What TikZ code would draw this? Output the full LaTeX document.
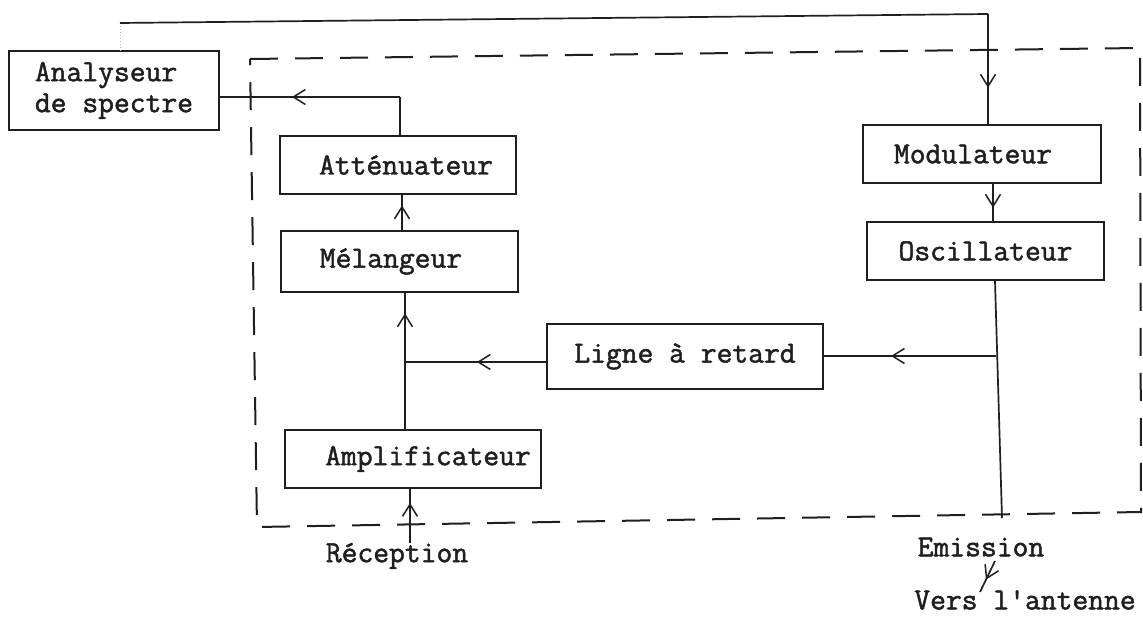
\documentclass[tikz,border=0pt]{standalone}
\usepackage{fontspec}
\newfontfamily\tw{Latin Modern Mono}[BoldFont={Latin Modern Mono}, BoldFeatures={FakeBold=1.6}]
\usetikzlibrary{arrows.meta,decorations.markings}
\definecolor{ink}{gray}{0.12}
\tikzset{
  box/.style={draw=ink, line width=1.9pt, inner sep=0pt, font=\tw\bfseries\fontsize{30.7}{31}\selectfont, text=ink},
  lbl/.style={inner sep=0pt, font=\tw\bfseries\fontsize{30.7}{31}\selectfont, text=ink},
  conn/.style={draw=ink, line width=1.7pt},
  faint/.style={draw=gray!55, line width=1pt, dotted},
  midarr/.style={postaction={decorate}, decoration={markings, mark=at position #1 with {\arrow[ink, line width=1.5pt]{Straight Barb[length=12pt,width=15pt]}}}},
  encl/.style={draw=ink, line width=2pt, dash pattern=on 28pt off 17pt},
}
\begin{document}
\begin{tikzpicture}[x=1pt, y=-1pt]
\fill[white] (0,0) rectangle (1143,620);
\useasboundingbox (0,0) rectangle (1143,620);

% dashed enclosure
\draw[encl] (250,59) -- (1140,48) -- (1141,512) -- (257,527) -- cycle;

% boxes
\node[box, minimum width=210, minimum height=79, align=left] (ana) at (114,90.5) {Analyseur\\de spectre};
\node[box, minimum width=236, minimum height=58] (att) at (398,165) {\hspace*{16pt}Atténuateur};
\node[box, minimum width=237, minimum height=61] (mel) at (399.5,261.5) {\hspace*{-17pt}Mélangeur};
\node[box, minimum width=256, minimum height=58] (amp) at (413,459) {\hspace*{30pt}Amplificateur};
\node[box, minimum width=276, minimum height=65] (lig) at (685,356.5) {Ligne à retard};
\node[box, minimum width=238, minimum height=58] (mod) at (982,154) {\hspace*{-18pt}Modulateur};
\node[box, minimum width=237, minimum height=58] (osc) at (985.5,251) {Oscillateur};

% labels
\node[lbl] (rec) at (397,556) {Réception};
\node[lbl] (emi) at (981,547) {Emission};
\node[lbl] (ant) at (1025,600) {Vers l'antenne};

% coordinates
\coordinate (tl) at (120,23);
\coordinate (tr) at (988,14);
\coordinate (mo) at (993,0);
\coordinate (ob) at (995,0);
\coordinate (em) at (1002,518);
\coordinate (br) at (996,356);
\coordinate (jn) at (405,362);
\coordinate (ma) at (402,0);
\coordinate (ac) at (400,97);
\coordinate (ra) at (410,0);
\coordinate (ea) at (995,561);
\coordinate (eb) at (980,592);

% connectors
\draw[faint] (tl) -- (tl |- ana.north);
\draw[conn] (tl) -- (tr);
\draw[conn, midarr=0.67] (tr) -- (tr |- mod.north);
\draw[conn, midarr=0.64] (mod.south -| mo) -- (osc.north -| mo);
\draw[conn] (osc.south -| ob) -- (em);
\draw[conn, midarr=0.61] (br) -- (lig.east |- br);
\draw[conn, midarr=0.49] (lig.west |- jn) -- (jn);
\draw[conn, midarr=0.85] (amp.north -| jn) -- (mel.south -| jn);
\draw[conn, midarr=0.7] (mel.north -| ma) -- (att.south -| ma);
\draw[conn] (att.north -| ac) -- (ac);
\draw[conn, midarr=0.6] (ac) -- (ana.east |- ac);
\draw[conn, midarr=0.74] (rec.north -| ra) -- (amp.south -| ra);
\draw[conn, midarr=0.6] (ea) -- (eb);
\end{tikzpicture}
\end{document}
